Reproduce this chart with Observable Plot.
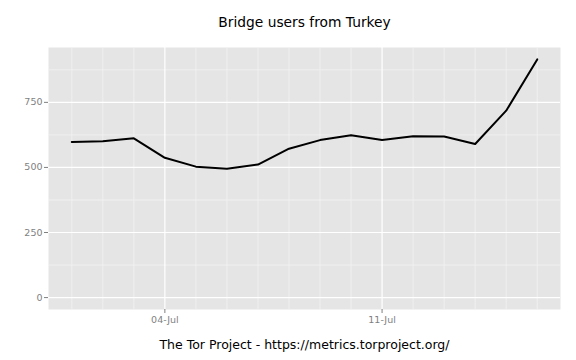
<!DOCTYPE html>
<html><head><meta charset="utf-8">
<script src="https://cdn.jsdelivr.net/npm/d3@7"></script>
<script src="https://cdn.jsdelivr.net/npm/@observablehq/plot@0.6"></script>
<style>body{margin:0;background:#fff;font-family:"DejaVu Sans",sans-serif}</style>
</head><body><div id="chart"></div>
<script>
const dates = ["2014-07-01","2014-07-02","2014-07-03","2014-07-04","2014-07-05","2014-07-06","2014-07-07","2014-07-08","2014-07-09","2014-07-10","2014-07-11","2014-07-12","2014-07-13","2014-07-14","2014-07-15","2014-07-16"];
const users = [598, 601, 612, 537, 503, 495, 511, 572, 605, 624, 605, 620, 619, 590, 718, 915];
const yTicks = [0, 250, 500, 750];
const yMinor = [125, 375, 625, 875];
const xTickDates = ["2014-07-04", "2014-07-11"];
const title = "Bridge users from Turkey";
const caption = "The Tor Project - https://metrics.torproject.org/";

const data = dates.map((d, i) => ({date: new Date(d), users: users[i]}));
const xTicks = xTickDates.map(d => new Date(d));
const xMinor = dates.map(d => new Date(d)).filter(d => !xTicks.some(t => +t === +d));
const t0 = new Date(dates[0]), t1 = new Date(dates[dates.length - 1]);
const span = t1 - t0;
const ymax = d3.max(users);

const chart = Plot.plot({
  width: 576, height: 360,
  marginTop: 47, marginBottom: 51, marginLeft: 48, marginRight: 16,
  style: {fontFamily: "DejaVu Sans, sans-serif", background: "#fff"},
  x: {type: "utc", domain: [new Date(+t0 - span * 0.05), new Date(+t1 + span * 0.05)], axis: null},
  y: {domain: [-ymax * 0.05, ymax * 1.05], axis: null},
  marks: [
    Plot.frame({fill: "#e5e5e5", stroke: null}),
    Plot.ruleY(yMinor, {stroke: "#f2f2f2", strokeWidth: 0.8}),
    Plot.ruleX(xMinor, {stroke: "#f2f2f2", strokeWidth: 0.8}),
    Plot.ruleY(yTicks, {stroke: "#ffffff", strokeWidth: 1.2}),
    Plot.ruleX(xTicks, {stroke: "#ffffff", strokeWidth: 1.2}),
    Plot.axisY({ticks: yTicks, tickSize: 4, tickPadding: 2, stroke: "#7f7f7f", color: "#7f7f7f", fontSize: 9.5, label: null, tickFormat: d => d}),
    Plot.axisX({ticks: xTicks, tickSize: 4, tickPadding: 3, stroke: "#7f7f7f", color: "#7f7f7f", fontSize: 9.5, label: null, tickFormat: d3.utcFormat("%d-%b")}),
    Plot.line(data, {x: "date", y: "users", stroke: "#000", strokeWidth: 2}),
    Plot.text([title], {frameAnchor: "top", dy: -25, fontSize: 13.8, fill: "#000", lineAnchor: "middle"}),
    Plot.text([caption], {frameAnchor: "bottom", dy: 35, fontSize: 12.5, fill: "#000", lineAnchor: "middle"})
  ]
});
document.getElementById("chart").appendChild(chart);
</script></body></html>
